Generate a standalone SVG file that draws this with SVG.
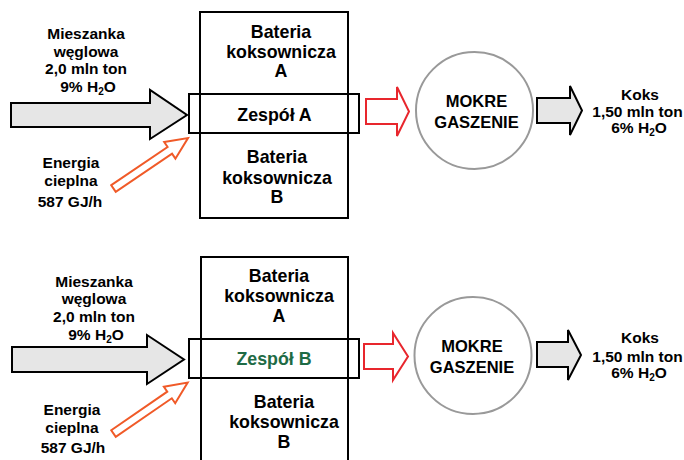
<svg xmlns="http://www.w3.org/2000/svg" width="684" height="460" viewBox="0 0 684 460">
<defs>
<style>
text{font-family:"Liberation Sans",Arial,sans-serif;font-weight:bold;fill:#000;text-anchor:middle}
.s15{font-size:15.5px}
.s16{font-size:16.5px}
.s17{font-size:17.8px}
.sub{font-size:10px}
.box{fill:none;stroke:#000;stroke-width:2}
.big{fill:#e6e6e6;stroke:#000;stroke-width:2;stroke-linejoin:miter}
.heat{fill:#fff;stroke:#f05a28;stroke-width:2}
.red{fill:#fff;stroke:#e8262d;stroke-width:2}
.circ{fill:#fff;stroke:#999;stroke-width:2}
.green{fill:#1e6b45}
</style>
</defs>
<g id="connectors">
<path class="big" d="M11,103 H150 V90 L187,115 L150,139 V127 H11 Z"/>
<path class="heat" transform="translate(113.5,188.5) rotate(-34.1)" d="M0,-4 L68,-4 L68,-10 L90,0 L68,10 L68,4 L0,4 Z"/>
<path class="red" d="M366,99 H397 V87 L409,111.5 L397,136 V124 H366 Z"/>
<path class="big" d="M537,98 H570 V86 L582,110.5 L570,135 V123 H537 Z"/>
<path class="big" d="M12,347 H147 V335 L184,359.5 L147,384 V372 H12 Z"/>
<path class="heat" transform="translate(113.5,433.5) rotate(-34.5)" d="M0,-4 L68,-4 L68,-10 L90,0 L68,10 L68,4 L0,4 Z"/>
<path class="red" d="M364,344 H393 V333 L408,356.5 L393,380 V369 H364 Z"/>
<path class="big" d="M537,342 H568 V330 L581,355 L568,380 V367 H537 Z"/>
</g>
<g id="input-a">
<text class="s15" x="86" y="39">Mieszanka</text>
<text class="s15" x="86" y="57">węglowa</text>
<text class="s15" x="86" y="74">2,0 mln ton</text>
<text class="s15" x="88" y="92">9% H<tspan class="sub" dy="3">2</tspan><tspan dy="-3">O</tspan></text>
</g>
<g id="energy-a">
<text class="s15" x="71" y="168">Energia</text>
<text class="s15" x="71" y="186">cieplna</text>
<text class="s15" x="70" y="207">587 GJ/h</text>
</g>
<g id="battery-a">
<rect class="box" x="200" y="12" width="148" height="206"/>
<text class="s17" x="281" y="38">Bateria</text>
<text class="s17" x="281" y="58">koksownicza</text>
<text class="s17" x="281" y="77">A</text>
<text class="s17" x="277" y="163">Bateria</text>
<text class="s17" x="277" y="184">koksownicza</text>
<text class="s17" x="277" y="203">B</text>
</g>
<g id="zespol-a">
<rect class="box" x="189" y="94" width="170" height="39"/>
<text class="s17" x="274.5" y="121">Zespół A</text>
</g>
<g id="quench-a">
<circle class="circ" cx="474.5" cy="110.5" r="58.5"/>
<text class="s16" x="476.5" y="107">MOKRE</text>
<text class="s16" x="476.5" y="128">GASZENIE</text>
</g>
<g id="coke-a">
<text class="s15" x="640" y="100">Koks</text>
<text class="s15" x="637.5" y="117">1,50 mln ton</text>
<text class="s15" x="639" y="133">6% H<tspan class="sub" dy="3">2</tspan><tspan dy="-3">O</tspan></text>
</g>
<g id="input-b">
<text class="s15" x="94" y="287">Mieszanka</text>
<text class="s15" x="94" y="304">węglowa</text>
<text class="s15" x="94" y="322">2,0 mln ton</text>
<text class="s15" x="96" y="340">9% H<tspan class="sub" dy="3">2</tspan><tspan dy="-3">O</tspan></text>
</g>
<g id="energy-b">
<text class="s15" x="72" y="415">Energia</text>
<text class="s15" x="72" y="433">cieplna</text>
<text class="s15" x="73" y="453">587 GJ/h</text>
</g>
<g id="battery-b">
<rect class="box" x="201" y="257" width="147" height="210"/>
<text class="s17" x="279" y="282">Bateria</text>
<text class="s17" x="279" y="302">koksownicza</text>
<text class="s17" x="279" y="322">A</text>
<text class="s17" x="284" y="408">Bateria</text>
<text class="s17" x="284" y="428">koksownicza</text>
<text class="s17" x="284" y="448">B</text>
</g>
<g id="zespol-b">
<rect class="box" x="189" y="339" width="170" height="39"/>
<text class="s17 green" x="274" y="365">Zespół B</text>
</g>
<g id="quench-b">
<circle class="circ" cx="473" cy="355.5" r="58.5"/>
<text class="s16" x="472" y="352">MOKRE</text>
<text class="s16" x="472" y="373">GASZENIE</text>
</g>
<g id="coke-b">
<text class="s15" x="640" y="343">Koks</text>
<text class="s15" x="637.5" y="362">1,50 mln ton</text>
<text class="s15" x="639" y="378">6% H<tspan class="sub" dy="3">2</tspan><tspan dy="-3">O</tspan></text>
</g>
</svg>
